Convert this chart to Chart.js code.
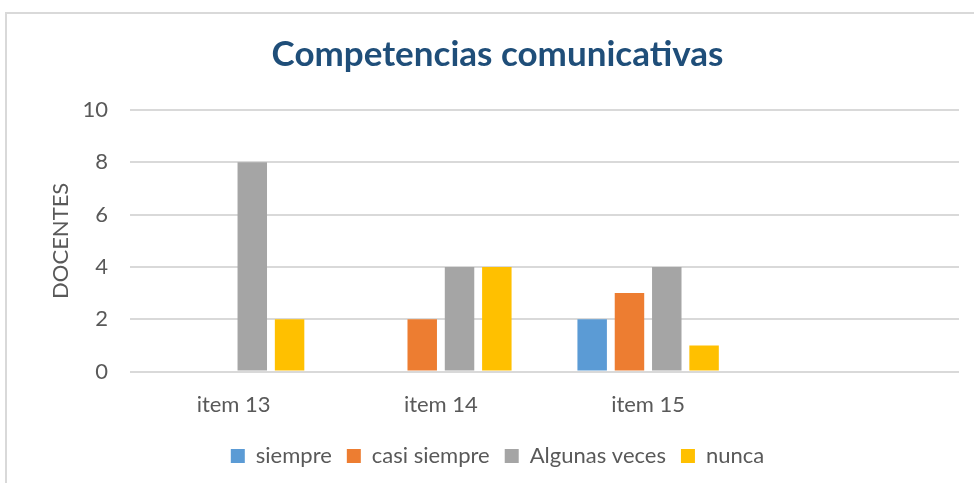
<!DOCTYPE html>
<html>
<head>
<meta charset="utf-8">
<script src="https://cdn.jsdelivr.net/npm/chart.js@4"></script>
<style>
    html, body { margin: 0; padding: 0; background: #fff; }
    #frame {
        position: absolute; left: 5px; top: 12px; width: 990px; height: 490px;
        border-left: 2px solid #d9d9d9; border-top: 2px solid #d9d9d9;
    }
    #wrap { position: absolute; left: 0; top: 0; width: 974px; height: 483px; }
</style>
</head>
<body>
<div id="frame"></div>
<div id="wrap"><canvas id="chart" width="974" height="483"></canvas></div>
<script>
// chart data
const categories = ['item 13', 'item 14', 'item 15', ''];
const siempre = [0, 0, 2, null];
const casiSiempre = [0, 2, 3, null];
const algunasVeces = [8, 4, 4, null];
const nunca = [2, 4, 1, null];
const yTicks = [0, 2, 4, 6, 8, 10];

const textColor = '#595959';
const fontFamily = 'Lato, "Open Sans", sans-serif';

const ctx = document.getElementById('chart').getContext('2d');
new Chart(ctx, {
    type: 'bar',
    data: {
        labels: categories,
        datasets: [
            { label: 'siempre', data: siempre, backgroundColor: '#5B9BD5' },
            { label: 'casi siempre', data: casiSiempre, backgroundColor: '#ED7D31' },
            { label: 'Algunas veces', data: algunasVeces, backgroundColor: '#A5A5A5' },
            { label: 'nunca', data: nunca, backgroundColor: '#FFC000' }
        ]
    },
    options: {
        responsive: false,
        animation: false,
        layout: { padding: { left: 36, right: 15, top: 0, bottom: 6 } },
        datasets: { bar: { categoryPercentage: 0.72, barPercentage: 0.79 } },
        plugins: {
            title: {
                display: true,
                text: 'Competencias comunicativas',
                color: '#1F4E79',
                font: { family: fontFamily, size: 35, weight: 'bold' },
                padding: { top: 34, bottom: 34 }
            },
            legend: {
                position: 'bottom',
                labels: {
                    color: textColor,
                    font: { family: fontFamily, size: 22 },
                    boxWidth: 14,
                    boxHeight: 14,
                    padding: 15
                }
            },
            tooltip: { enabled: false }
        },
        scales: {
            x: {
                grid: { display: false },
                border: { display: false },
                ticks: { color: textColor, font: { family: fontFamily, size: 22 }, padding: 12, maxRotation: 0 }
            },
            y: {
                min: 0,
                max: 10,
                afterBuildTicks: scale => { scale.ticks = yTicks.map(v => ({ value: v })); },
                afterFit: scale => { scale.width = 94; },
                grid: { color: '#D9D9D9', lineWidth: 2, drawTicks: false },
                border: { display: false },
                ticks: { color: textColor, font: { family: fontFamily, size: 22 }, padding: 22 },
                title: {
                    display: true,
                    text: 'DOCENTES',
                    color: textColor,
                    font: { family: fontFamily, size: 22 },
                    padding: { top: 12, bottom: 0 }
                }
            }
        }
    }
});
</script>
</body>
</html>
